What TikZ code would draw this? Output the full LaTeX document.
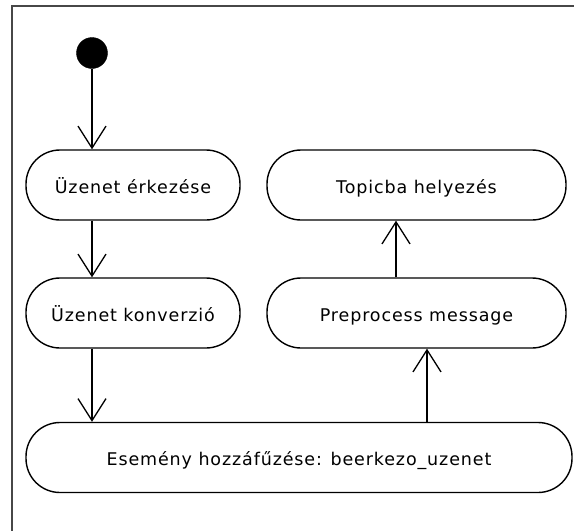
\documentclass[tikz,border=0pt]{standalone}
\usepackage{fontspec}
\setmainfont{DejaVu Sans}[LetterSpace=5]
\usetikzlibrary{arrows.meta}
\begin{document}
\begin{tikzpicture}[x=1pt,y=-1pt,
  act/.style={draw=black, line width=1.4pt, rounded corners=34pt,
    minimum height=70pt, inner sep=0pt, text height=16pt, text depth=0pt,
    font=\fontsize{17.5}{20}\selectfont},
  flow/.style={draw=black, line width=1.5pt,
    -{Straight Barb[length=22pt,width=28pt,line width=1.3pt]}},
  startdot/.style={circle, fill=black, draw=black, minimum size=31pt, inner sep=0pt}
]
  \useasboundingbox (0,0) rectangle (574,531);
  % frame (left and top edges)
  \draw[line width=2pt, black!72] (12,531) -- (12,6) -- (574,6);

  % initial state
  \node[startdot] (start) at (92,53) {};

  % activities
  \node[act, minimum width=214pt] (erk)  at (133,185)   {Üzenet érkezése};
  \node[act, minimum width=214pt] (konv) at (133,313)   {Üzenet konverzió};
  \node[act, minimum width=299pt] (top)  at (416.5,185) {Topicba helyezés};
  \node[act, minimum width=299pt] (pre)  at (416.5,313) {Preprocess message};
  \node[act, minimum width=546pt] (es)   at (299,457.5) {Esemény hozzáfűzése: beerkezo\_uzenet};

  \coordinate (upa) at (396,0);
  \coordinate (upb) at (427,0);

  % transitions
  \draw[flow] (start) -- (start |- erk.north);
  \draw[flow] (start |- erk.south) -- (start |- konv.north);
  \draw[flow] (start |- konv.south) -- (start |- es.north);
  \draw[flow] (upb |- es.north) -- (upb |- pre.south);
  \draw[flow] (upa |- pre.north) -- (upa |- top.south);
\end{tikzpicture}
\end{document}
